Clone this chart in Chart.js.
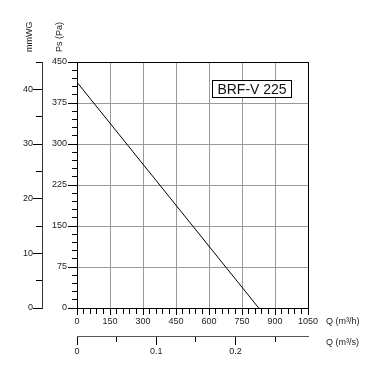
<!DOCTYPE html>
<html><head><meta charset="utf-8">
<script src="https://cdn.jsdelivr.net/npm/chart.js@4/dist/chart.umd.min.js"></script>
<style>html,body{margin:0;padding:0;background:#fff}#wrap{width:388px;height:389px;position:relative}</style>
</head><body><div id="wrap"><canvas id="c" width="388" height="389"></canvas></div>
<script>
// Data
const flowM3h = [0, 826];
const pressurePa = [413, 0];
const modelLabel = 'BRF-V 225';
const paTickLabels = [0, 75, 150, 225, 300, 375, 450];
const mmTickLabels = [0, 10, 20, 30, 40];
const qhTickLabels = [0, 150, 300, 450, 600, 750, 900, 1050];
const qsTickLabels = [0, 0.1, 0.2];
const axisTitles = { pa: 'Ps (Pa)', mm: 'mmWG', qh: 'Q (m³/h)', qs: 'Q (m³/s)' };

const FONT = "'Liberation Sans', Arial, sans-serif";
const GRID = '#9a9a9a';
const CLEAR = 'rgba(0,0,0,0)';
const near = (a, b) => Math.abs(a - b) < 1e-6;
const inList = (list, v) => list.some(t => near(t, v));

function tickVal(ctx) { return ctx && ctx.tick ? ctx.tick.value : null; }

const points = flowM3h.map((q, i) => ({ x: q, y: pressurePa[i] }));

const overlay = {
  id: 'overlay',
  afterDraw(chart) {
    const c = chart.ctx, a = chart.chartArea, sx = chart.scales.x, sx2 = chart.scales.x2;
    c.save();
    c.fillStyle = '#222';
    c.font = '9px ' + FONT;
    c.textAlign = 'left';
    c.textBaseline = 'middle';
    c.fillText(axisTitles.qh, a.right + 18, sx.top + 14);
    c.fillText(axisTitles.qs, a.right + 18, sx2.top + 7);
    // rotated titles
    [[axisTitles.pa, chart.scales.y.left + 18], [axisTitles.mm, chart.scales.mm.left + 30]].forEach(([t, x]) => {
      c.save();
      c.translate(x, a.top - 10);
      c.rotate(-Math.PI / 2);
      c.textAlign = 'left';
      c.textBaseline = 'middle';
      c.fillText(t, 0, 0);
      c.restore();
    });
    // model label box
    const bx = a.left + 135.5, by = a.top + 18.5, bw = 79, bh = 17;
    c.fillStyle = '#fff';
    c.fillRect(bx, by, bw, bh);
    c.strokeStyle = '#000';
    c.lineWidth = 1;
    c.strokeRect(bx, by, bw, bh);
    c.fillStyle = '#111';
    c.font = '14px ' + FONT;
    c.textAlign = 'center';
    c.textBaseline = 'middle';
    c.fillText(modelLabel, bx + bw / 2, by + bh / 2 + 1);
    c.restore();
  }
};

new Chart(document.getElementById('c'), {
  type: 'scatter',
  data: {
    datasets: [{
      data: points,
      showLine: true,
      borderColor: '#000',
      borderWidth: 1,
      pointRadius: 0,
      xAxisID: 'x',
      yAxisID: 'y'
    }]
  },
  options: {
    responsive: false,
    animation: false,
    devicePixelRatio: 1,
    layout: { padding: { left: 0, top: 62, right: 80, bottom: 23 } },
    plugins: { legend: { display: false }, tooltip: { enabled: false } },
    scales: {
      x: {
        type: 'linear', position: 'bottom', weight: 0, min: 0, max: 1050,
        ticks: {
          stepSize: 30, autoSkip: false, maxRotation: 0, padding: 1,
          color: '#222', font: { family: FONT, size: 9 },
          callback: v => inList(qhTickLabels, v) ? String(v) : ''
        },
        grid: {
          color: ctx => { const v = tickVal(ctx); return v === 1050 ? '#000' : (inList(qhTickLabels, v) ? GRID : CLEAR); },
          tickColor: '#000', tickLength: 7,
          tickBorderDash: ctx => inList(qhTickLabels, tickVal(ctx)) ? [] : [5, 100]
        },
        border: { color: '#000', width: 1 },
        afterFit: s => { s.height = 28; }
      },
      x2: {
        type: 'linear', position: 'bottom', weight: 1, min: 0, max: 1050 / 3600,
        ticks: {
          stepSize: 0.05, includeBounds: false, autoSkip: false, maxRotation: 0, padding: 1,
          color: '#222', font: { family: FONT, size: 9 },
          callback: v => inList(qsTickLabels, v) ? (near(v, 0) ? '0' : v.toFixed(1)) : ''
        },
        grid: {
          drawOnChartArea: false, tickColor: '#000', tickLength: 9,
          tickBorderDash: ctx => inList(qsTickLabels, tickVal(ctx)) ? [] : [5, 100]
        },
        border: { color: '#555', width: 1 },
        afterFit: s => { s.height = 30; }
      },
      y: {
        type: 'linear', position: 'left', weight: 0, min: 0, max: 450,
        ticks: {
          stepSize: 15, autoSkip: false, padding: 1,
          color: '#222', font: { family: FONT, size: 9 },
          callback: v => inList(paTickLabels, v) ? String(v) : ''
        },
        grid: {
          color: ctx => { const v = tickVal(ctx); return v === 450 ? '#000' : (inList(paTickLabels, v) ? GRID : CLEAR); },
          tickColor: '#000', tickLength: 9,
          tickBorderDash: ctx => inList(paTickLabels, tickVal(ctx)) ? [] : [0, 4, 5, 100]
        },
        border: { color: '#000', width: 1 },
        afterFit: s => { s.width = 35; }
      },
      mm: {
        type: 'linear', position: 'left', weight: 1, min: 0, max: 45,
        ticks: {
          stepSize: 5, autoSkip: false, padding: 0,
          color: '#222', font: { family: FONT, size: 9 },
          callback: v => inList(mmTickLabels, v) ? String(v) : ''
        },
        grid: {
          drawOnChartArea: false, tickColor: '#000', tickLength: 9,
          tickBorderDash: ctx => inList(mmTickLabels, tickVal(ctx)) ? [] : [0, 3, 6, 100]
        },
        border: { color: '#333', width: 1 },
        afterFit: s => { s.width = 42; }
      }
    }
  },
  plugins: [overlay]
});
</script>
</body></html>
